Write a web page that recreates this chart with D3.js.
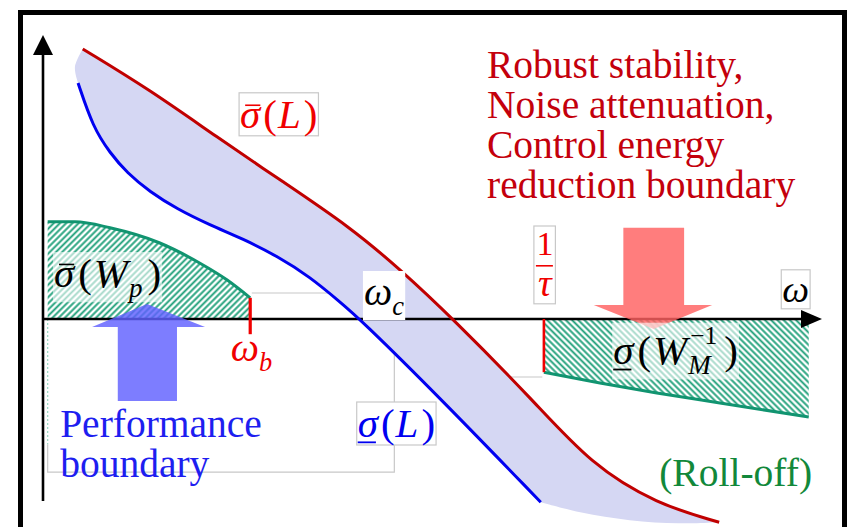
<!DOCTYPE html>
<html>
<head>
<meta charset="utf-8">
<style>
  body { margin: 0; background: #fff; }
  svg { display: block; }
</style>
</head>
<body>
<div id="chart"></div>
<script src="https://cdn.jsdelivr.net/npm/d3@7"></script>
<script>
// loop shaping sketch: x = log frequency units, y = magnitude units (0 = axis)
var sigmaMaxL = [[0.51,6.75],[1.37,5.73],[2.23,4.55],[3.08,3.43],[3.94,2.30],[4.58,1.25],[5.25,0.03],[6.29,-2.03],[7.03,-3.63],[7.88,-4.63],[8.68,-5.08]];
var sigmaMinL = [[0.45,5.90],[0.64,4.80],[0.86,4.15],[1.08,3.65],[1.37,3.18],[1.72,2.75],[2.14,2.35],[2.57,2.00],[3.00,1.58],[3.43,1.05],[3.81,0.43],[4.07,0.00],[5.10,-1.98],[6.39,-4.58]];
var bandBottom = [[6.39,-4.58],[6.89,-4.85],[7.53,-5.05],[8.18,-5.13],[8.68,-5.08]];
var bandLeft = [[0.45,5.90],[0.41,6.30],[0.51,6.75]];
var wpBound = [[0.06,2.43],[0.41,2.43],[0.86,2.28],[1.50,1.90],[2.01,1.40],[2.36,0.98],[2.66,0.53]];
var wmBound = [[6.43,-1.33],[7.15,-1.60],[7.88,-1.85],[8.69,-2.10],[9.83,-2.45]];
var omegaB = 2.66, omegaBTick = [0.53, -0.38];
var omegaTau = 6.43;

// block arrows: shaft, head, tip
var perfArrow = { tip: [1.335, 0.375], headBase: -0.2, head: [0.63, 2.08], shaft: [0.96, 1.72], tail: -2.05 };
var robustArrow = { tip: [7.84, -0.25], headBase: 0.35, head: [7.07, 8.59], shaft: [7.45, 8.23], tail: 2.28 };

// faint leftover guide lines
var guideLines = [
  [[2.68,0.65],[4.20,0.65]],
  [[4.51,-0.6],[4.51,-3.83],[0.06,-3.83],[0.06,-3.13]],
  [[5.74,-1.45],[6.41,-1.45]]
];

var redText = ["Robust stability,", "Noise attenuation,", "Control energy", "reduction boundary"];
var blueText = ["Performance", "boundary"];
var greenText = ["(Roll-off)"];

var FONT = "Liberation Serif";
var W = 848, H = 527;
var x = d3.scaleLinear().domain([0, 10]).range([43, 822]);
var y = d3.scaleLinear().domain([-5, 7]).range([519, 39]);

var svg = d3.select("#chart").append("svg").attr("width", W).attr("height", H);
var defs = svg.append("defs");

function hatch(id, angle) {
  var p = defs.append("pattern").attr("id", id)
    .attr("patternUnits", "userSpaceOnUse")
    .attr("width", 4.4).attr("height", 4.4)
    .attr("patternTransform", "rotate(" + angle + ")");
  p.append("rect").attr("width", 4.4).attr("height", 4.4).attr("fill", "#ffffff");
  p.append("line").attr("x1", 2.2).attr("y1", 0).attr("x2", 2.2).attr("y2", 4.4)
    .attr("stroke", "#20a07a").attr("stroke-width", 1.9);
}
hatch("hatchP", 45);
hatch("hatchM", -45);

var px = function(d) { return x(d[0]); }, py = function(d) { return y(d[1]); };
var smooth = d3.line().x(px).y(py).curve(d3.curveBasis);
var mono = d3.line().x(px).y(py).curve(d3.curveMonotoneX);
var round = d3.line().x(px).y(py).curve(d3.curveCatmullRom.alpha(0.5));
var straight = d3.line().x(px).y(py);
var area = d3.area().x(px).y0(y(0)).y1(py).curve(d3.curveMonotoneX);

// guide lines underneath everything
svg.selectAll(".guide").data(guideLines).enter().append("path")
  .attr("class", "guide").attr("d", straight)
  .attr("fill", "none").attr("stroke", "#c8c8c8").attr("stroke-width", 1.2);
svg.append("path").attr("d", straight([[0.06, 0], [0.06, -3.13]]))
  .attr("stroke", "#9ad8c2").attr("stroke-width", 1.2).attr("stroke-dasharray", "2,2");

// performance weight region
svg.append("path").attr("d", area(wpBound)).attr("fill", "url(#hatchP)");
svg.append("path").attr("d", mono(wpBound)).attr("fill", "none")
  .attr("stroke", "#119470").attr("stroke-width", 3);

// uncertainty weight region
svg.append("path").attr("d", area(wmBound)).attr("fill", "url(#hatchM)");
svg.append("path").attr("d", mono(wmBound)).attr("fill", "none")
  .attr("stroke", "#119470").attr("stroke-width", 3);

// band between the singular values
var bandPath = smooth(sigmaMaxL)
  + smooth(bandBottom.slice().reverse()).replace(/^M/, "L")
  + smooth(sigmaMinL.slice().reverse()).replace(/^M/, "L")
  + round(bandLeft).replace(/^M/, "L") + "Z";
svg.append("path").attr("d", bandPath).attr("fill", "#d5d7f3");

// axes
var ax = svg.append("g").attr("stroke", "#000");
ax.append("line").attr("x1", x(0)).attr("x2", x(9.75)).attr("y1", y(0)).attr("y2", y(0)).attr("stroke-width", 2.6);
ax.append("line").attr("x1", x(0)).attr("x2", x(0)).attr("y1", y(-4.55)).attr("y2", y(6.7)).attr("stroke-width", 2.6);
svg.append("path").attr("fill", "#000")
  .attr("d", "M" + x(10) + "," + y(0) + "L" + (x(10) - 21) + "," + (y(0) - 9) + "L" + (x(10) - 21) + "," + (y(0) + 9) + "Z");
svg.append("path").attr("fill", "#000")
  .attr("d", "M" + x(0) + "," + y(7.1) + "L" + (x(0) - 10) + "," + (y(7.1) + 20) + "L" + (x(0) + 10) + "," + (y(7.1) + 20) + "Z");

// singular value curves
svg.append("path").attr("d", smooth(sigmaMaxL)).attr("fill", "none").attr("stroke", "#c00000").attr("stroke-width", 3);
svg.append("path").attr("d", smooth(sigmaMinL)).attr("fill", "none").attr("stroke", "#0000f0").attr("stroke-width", 3);

// bandwidth tick and 1/tau edge
svg.append("line").attr("x1", x(omegaB)).attr("x2", x(omegaB)).attr("y1", y(omegaBTick[0])).attr("y2", y(omegaBTick[1]))
  .attr("stroke", "#f00000").attr("stroke-width", 3.2);
svg.append("line").attr("x1", x(omegaTau)).attr("x2", x(omegaTau)).attr("y1", y(0)).attr("y2", y(wmBound[0][1]))
  .attr("stroke", "#f00000").attr("stroke-width", 2.6);

// block arrows
function blockArrow(a, color) {
  var pts = [[a.shaft[0], a.tail], [a.shaft[1], a.tail], [a.shaft[1], a.headBase], [a.head[1], a.headBase],
             a.tip, [a.head[0], a.headBase], [a.shaft[0], a.headBase]];
  svg.append("path").attr("d", straight(pts) + "Z").attr("fill", color).attr("fill-opacity", 0.82);
}
blockArrow(perfArrow, "rgb(96,96,255)");
blockArrow(robustArrow, "rgb(255,96,96)");

// math labels built from pieces
function mathLabel(u, v, parts, color, size) {
  var g = svg.append("g");
  var cx = x(u), by = y(v);
  parts.forEach(function(p) {
    var t = g.append("text").attr("x", cx).attr("y", by).attr("font-size", size).attr("font-family", FONT)
      .attr("fill", color).attr("font-style", p.it ? "italic" : null).text(p.t);
    var w = t.node().getComputedTextLength();
    if (p.bar) g.append("line").attr("x1", cx + w * 0.25).attr("x2", cx + w * 1.0)
      .attr("y1", by - size * 0.55).attr("y2", by - size * 0.55).attr("stroke", color).attr("stroke-width", 1.6);
    if (p.under) g.append("line").attr("x1", cx).attr("x2", cx + w * 0.9)
      .attr("y1", by + size * 0.13).attr("y2", by + size * 0.13).attr("stroke", color).attr("stroke-width", 1.8);
    cx += w + (p.kern || 0);
    if (p.sub || p.sup) {
      var sw = 0;
      if (p.sup) {
        var s = g.append("text").attr("x", cx + 2).attr("y", by - size * 0.5).attr("font-size", size * 0.62)
          .attr("font-family", FONT).attr("fill", color).text(p.sup);
        sw = Math.max(sw, s.node().getComputedTextLength() + 2);
      }
      if (p.sub) {
        var b = g.append("text").attr("x", cx).attr("y", by + size * 0.25).attr("font-size", size * 0.66)
          .attr("font-family", FONT).attr("fill", color).attr("font-style", "italic").text(p.sub);
        sw = Math.max(sw, b.node().getComputedTextLength());
      }
      cx += sw + 3 + (p.subKern || 0);
    }
  });
  return g;
}
function boxed(g, fill, stroke, opacity, pad) {
  var b = g.node().getBBox();
  g.insert("rect", ":first-child")
    .attr("x", b.x - pad).attr("y", b.y - pad + 3).attr("width", b.width + 2 * pad).attr("height", b.height + 2 * pad - 5)
    .attr("fill", fill).attr("fill-opacity", opacity)
    .attr("stroke", stroke || "none").attr("stroke-width", 1.2);
  return g;
}

boxed(mathLabel(2.53, 4.78, [{t: "σ", it: true, bar: true, kern: 3}, {t: "(", kern: 1}, {t: "L", it: true, kern: 3}, {t: ")"}], "#f00000", 41), "#fff", "#c8c8c8", 1, 1);
boxed(mathLabel(4.04, -2.95, [{t: "σ", it: true, under: true, kern: 3}, {t: "(", kern: 1}, {t: "L", it: true, kern: 3}, {t: ")"}], "#0000f0", 41), "#fff", "#c8c8c8", 1, 1);
boxed(mathLabel(0.14, 0.8, [{t: "σ", it: true, bar: true, kern: 4}, {t: "(", kern: 2}, {t: "W", it: true, kern: 1, sub: "p", subKern: 2}, {t: ")"}], "#000", 41), "#fff", null, 0.6, 1);
boxed(mathLabel(7.32, -1.13, [{t: "σ", it: true, under: true, kern: 4}, {t: "(", kern: 2}, {t: "W", it: true, kern: 1, sub: "M", sup: "−1", subKern: 4}, {t: ")"}], "#000", 41), "#fff", null, 0.6, 1);
boxed(mathLabel(4.12, 0.35, [{t: "ω", it: true, sub: "c"}], "#000", 40), "#fff", null, 1, 1);
mathLabel(2.41, -1.05, [{t: "ω", it: true, sub: "b"}], "#f00000", 40);
boxed(mathLabel(9.49, 0.43, [{t: "ω", it: true}], "#000", 38), "#fff", "#c8c8c8", 1, 1);

// 1/tau fraction
var frac = svg.append("g");
frac.append("text").attr("x", x(omegaTau) + 1).attr("y", y(1.6)).attr("text-anchor", "middle")
  .attr("font-family", FONT).attr("font-size", 34).attr("fill", "#f00000").text("1");
frac.append("line").attr("x1", x(omegaTau) - 8).attr("x2", x(omegaTau) + 9).attr("y1", y(1.33)).attr("y2", y(1.33))
  .attr("stroke", "#f00000").attr("stroke-width", 1.6);
frac.append("text").attr("x", x(omegaTau) + 1).attr("y", y(0.58)).attr("text-anchor", "middle")
  .attr("font-family", FONT).attr("font-size", 38).attr("font-style", "italic").attr("fill", "#f00000").text("τ");
boxed(frac, "#fff", "#c8c8c8", 1, 2);

// text blocks
function textBlock(lines, u, v, color) {
  svg.append("g").selectAll("text").data(lines).enter().append("text")
    .attr("x", x(u)).attr("y", function(d, i) { return y(v - i); })
    .attr("font-family", FONT).attr("font-size", 39.5).attr("fill", color).text(function(d) { return d; });
}
textBlock(redText, 5.70, 6.03, "#c4000c");
textBlock(blueText, 0.22, -2.95, "#1e1ef0");
textBlock(greenText, 7.91, -4.18, "#12883a");

// outer frame
svg.append("rect").attr("x", 20.5).attr("y", 12.5).attr("width", 824).attr("height", 560)
  .attr("fill", "none").attr("stroke", "#000").attr("stroke-width", 5);
</script>
</body>
</html>
